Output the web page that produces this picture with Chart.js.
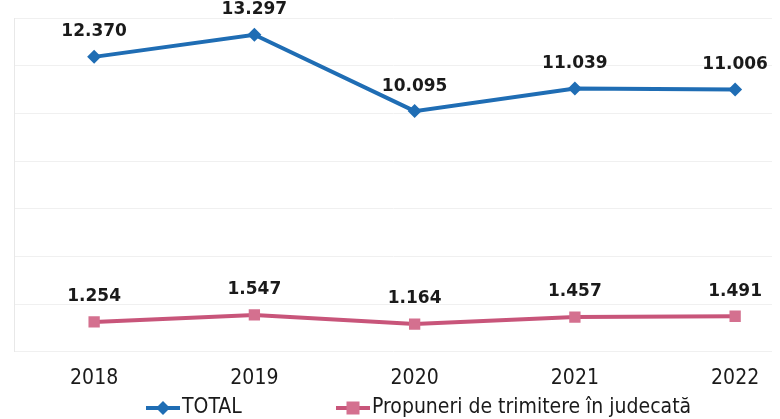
<!DOCTYPE html>
<html lang="ro">
<head>
  <meta charset="UTF-8">
  <title>TOTAL / Propuneri de trimitere în judecată</title>
  <script src="https://cdn.jsdelivr.net/npm/chart.js"></script>
  <style>
    html, body { margin: 0; padding: 0; background: #fff; }
    #wrap { width: 780px; height: 419px; position: relative; }
  </style>
</head>
<body>
  <div id="wrap"><canvas id="chart"></canvas></div>

  <script>
    const years = ['2018', '2019', '2020', '2021', '2022'];
    const totalValues = [12370, 13297, 10095, 11039, 11006];
    const propuneriValues = [1254, 1547, 1164, 1457, 1491];
    const seriesNames = ['TOTAL', 'Propuneri de trimitere în judecată'];

    const blue = '#1f6db4';
    const pink = '#c8557a';
    const pinkMarker = '#d4708f';
    const labelFont = '"DejaVu Sans Condensed", "DejaVu Sans", sans-serif';

    // value labels above points, dot as thousands separator
    const valueLabels = {
      id: 'valueLabels',
      afterDatasetsDraw(chart) {
        const ctx = chart.ctx;
        ctx.save();
        ctx.font = 'bold 17px "DejaVu Sans", Verdana, sans-serif';
        ctx.fillStyle = '#1a1a1a';
        ctx.textAlign = 'center';
        ctx.textBaseline = 'middle';
        chart.data.datasets.forEach((ds, i) => {
          chart.getDatasetMeta(i).data.forEach((pt, j) => {
            const txt = ds.data[j].y.toString().replace(/\B(?=(\d{3})+(?!\d))/g, '.');
            ctx.fillText(txt, pt.x, pt.y - 25);
          });
        });
        ctx.restore();
      }
    };

    // legend drawn by hand: line with marker, then the series name
    const lineLegend = {
      id: 'lineLegend',
      afterDraw(chart) {
        const ctx = chart.ctx;
        const y = 408;
        const items = [
          { x: 146, color: blue, marker: blue, shape: 'diamond', text: seriesNames[0] },
          { x: 336, color: pink, marker: pinkMarker, shape: 'square', text: seriesNames[1] }
        ];
        ctx.save();
        items.forEach(it => {
          ctx.strokeStyle = it.color;
          ctx.lineWidth = 4;
          ctx.beginPath(); ctx.moveTo(it.x, y); ctx.lineTo(it.x + 34, y); ctx.stroke();
          ctx.fillStyle = it.marker;
          const cx = it.x + 17;
          if (it.shape === 'diamond') {
            ctx.beginPath(); ctx.moveTo(cx, y - 7); ctx.lineTo(cx + 7, y); ctx.lineTo(cx, y + 7); ctx.lineTo(cx - 7, y); ctx.closePath(); ctx.fill();
          } else {
            ctx.fillRect(cx - 6.5, y - 6.5, 13, 13);
          }
          ctx.fillStyle = '#1a1a1a';
          ctx.font = '21px ' + labelFont;
          ctx.textBaseline = 'middle';
          ctx.textAlign = 'left';
          ctx.fillText(it.text, it.x + 36, y);
        });
        ctx.restore();
      }
    };

    new Chart(document.getElementById('chart'), {
      type: 'line',
      data: {
        datasets: [
          {
            label: seriesNames[0],
            data: totalValues.map((v, i) => ({ x: i, y: v })),
            borderColor: blue,
            backgroundColor: blue,
            borderWidth: 4,
            pointStyle: 'rectRot',
            pointRadius: 7,
            pointBorderWidth: 0,
            pointBackgroundColor: blue
          },
          {
            label: seriesNames[1],
            data: propuneriValues.map((v, i) => ({ x: i, y: v })),
            borderColor: pink,
            backgroundColor: pinkMarker,
            borderWidth: 4,
            pointStyle: 'rect',
            pointRadius: 8,
            pointBorderWidth: 0,
            pointBackgroundColor: pinkMarker
          }
        ]
      },
      options: {
        responsive: true,
        maintainAspectRatio: false,
        animation: false,
        layout: { padding: { left: 14, right: 4, top: 18, bottom: 22 } },
        scales: {
          x: {
            type: 'linear',
            min: -0.5,
            max: 4.23,
            afterBuildTicks: axis => { axis.ticks = years.map((y, i) => ({ value: i })); },
            grid: { display: false },
            border: { display: false },
            ticks: {
              callback: v => years[v],
              color: '#1a1a1a',
              font: { family: labelFont, size: 21 },
              padding: 6,
              maxRotation: 0
            }
          },
          y: {
            min: 0,
            max: 14000,
            ticks: { display: false, stepSize: 2000 },
            grid: { color: '#f0f0f0', drawTicks: false },
            border: { display: true, color: '#e8e8e8' }
          }
        },
        plugins: {
          legend: { display: false },
          tooltip: { enabled: false }
        }
      },
      plugins: [valueLabels, lineLegend]
    });
  </script>
</body>
</html>
